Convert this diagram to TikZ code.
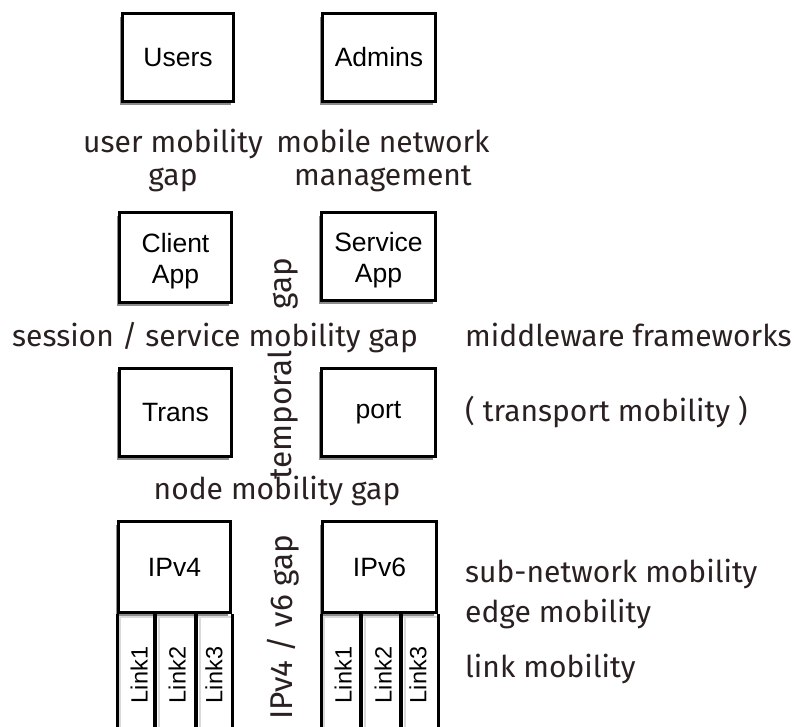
\documentclass[tikz,border=0pt]{standalone}
\usepackage{fontspec}
\setmainfont{Liberation Sans}
\newfontfamily\labelfont{Fira Sans}
\usetikzlibrary{shadows}
\definecolor{ink}{HTML}{2A2020}
\begin{document}
\begin{tikzpicture}[x=1pt,y=-1pt,
  box/.style={draw=black, line width=3pt, fill=white, inner sep=0pt, align=center,
    font=\fontsize{26.5}{31}\selectfont,
    drop shadow={shadow xshift=-2.5pt, shadow yshift=-3.5pt, fill=black!45, opacity=1}},
  lbl/.style={font=\labelfont\fontsize{30}{33}\selectfont, inner sep=0pt, text=ink},
  vlbl/.style={lbl, font=\labelfont\fontsize{31.5}{34}\selectfont, rotate=90, anchor=base west},
  linktext/.style={font=\fontsize{23.5}{27}\selectfont, rotate=90, inner sep=0pt},
  wall/.style={line width=3pt},
  divider/.style={line width=4pt},
  faint/.style={line width=2pt, black!15},
]
\useasboundingbox (0,0) rectangle (796,727);

% --- boxes ---
\node[box, minimum width=111pt, minimum height=88pt] (users)   at (178,57.5)  {Users};
\node[box, minimum width=113pt, minimum height=88pt] (admins)  at (379,57.5)  {Admins};
\node[box, minimum width=112pt, minimum height=90pt] (client)  at (175.5,257.5) {\raisebox{-4pt}[\height][\depth]{\parbox{100pt}{\centering Client\\App}}};
\node[box, minimum width=114pt, minimum height=88pt] (service) at (378.5,256.5) {\raisebox{-4pt}[\height][\depth]{\parbox{100pt}{\centering Service\\App}}};
\node[box, minimum width=112pt, minimum height=88pt] (trans)   at (175.5,412.5) {Trans};
\node[box, minimum width=114pt, minimum height=88pt] (port)    at (378.5,412.5) {port};
\node[box, minimum width=112pt, minimum height=91pt] (ipv4)    at (174.5,567)   {IPv4};
\node[box, minimum width=114pt, minimum height=91pt] (ipv6)    at (379.5,567)   {IPv6};

% --- link columns under the IP boxes ---
\foreach \b/\da/\db in {ipv4/37.5/78.5, ipv6/39.5/79.5}{
  \draw[faint] ([xshift=3pt,yshift=-3pt]\b.south west) -- ++(0,130);
  \draw[faint] ([xshift=\da pt+4pt,yshift=-3pt]\b.south west) -- ++(0,130);
  \draw[faint] ([xshift=\db pt+4pt,yshift=-3pt]\b.south west) -- ++(0,130);
  \draw[faint] ([yshift=-3pt]\b.south west) -- ([yshift=-3pt]\b.south east);
  \draw[wall] (\b.south west) -- ++(0,130);
  \draw[wall] (\b.south east) -- ++(0,130);
  \draw[divider] ([xshift=\da pt]\b.south west) -- ++(0,130);
  \draw[divider] ([xshift=\db pt]\b.south west) -- ++(0,130);
}
\node[linktext] (l41) at (139,675) {Link1};
\node[linktext] (l42) at (177,675) {Link2};
\node[linktext] (l43) at (214,675) {Link3};
\node[linktext] (l61) at (343,675) {Link1};
\node[linktext] (l62) at (383,675) {Link2};
\node[linktext] (l63) at (418,675) {Link3};

% --- gap labels ---
\node[lbl, align=center, anchor=base] (ugap) at (173,186) {user mobility\\gap};
\node[lbl, align=center, anchor=base] (mnm)  at (383,186) {mobile network\\management};
\node[lbl, anchor=base] (sgap) at (215,347) {session / service mobility gap};
\node[lbl, anchor=base] (ngap) at (277,500) {node mobility gap};
\node[vlbl] (tgap) at (291,480) {temporal\hspace{41pt}gap};
\node[vlbl] (vgap) at (292,720) {IPv4 / v6 gap};

% --- layer labels on the right ---
\node[lbl, anchor=base west] (mw)   at (465,347) {middleware frameworks};
\node[lbl, anchor=base west] (tm)   at (465,422) {( transport mobility )};
\node[lbl, anchor=base west] (snm)  at (465,582) {sub-network mobility};
\node[lbl, anchor=base west] (em)   at (465,622) {edge mobility};
\node[lbl, anchor=base west] (lm)   at (465,677) {link mobility};
\end{tikzpicture}
\end{document}
